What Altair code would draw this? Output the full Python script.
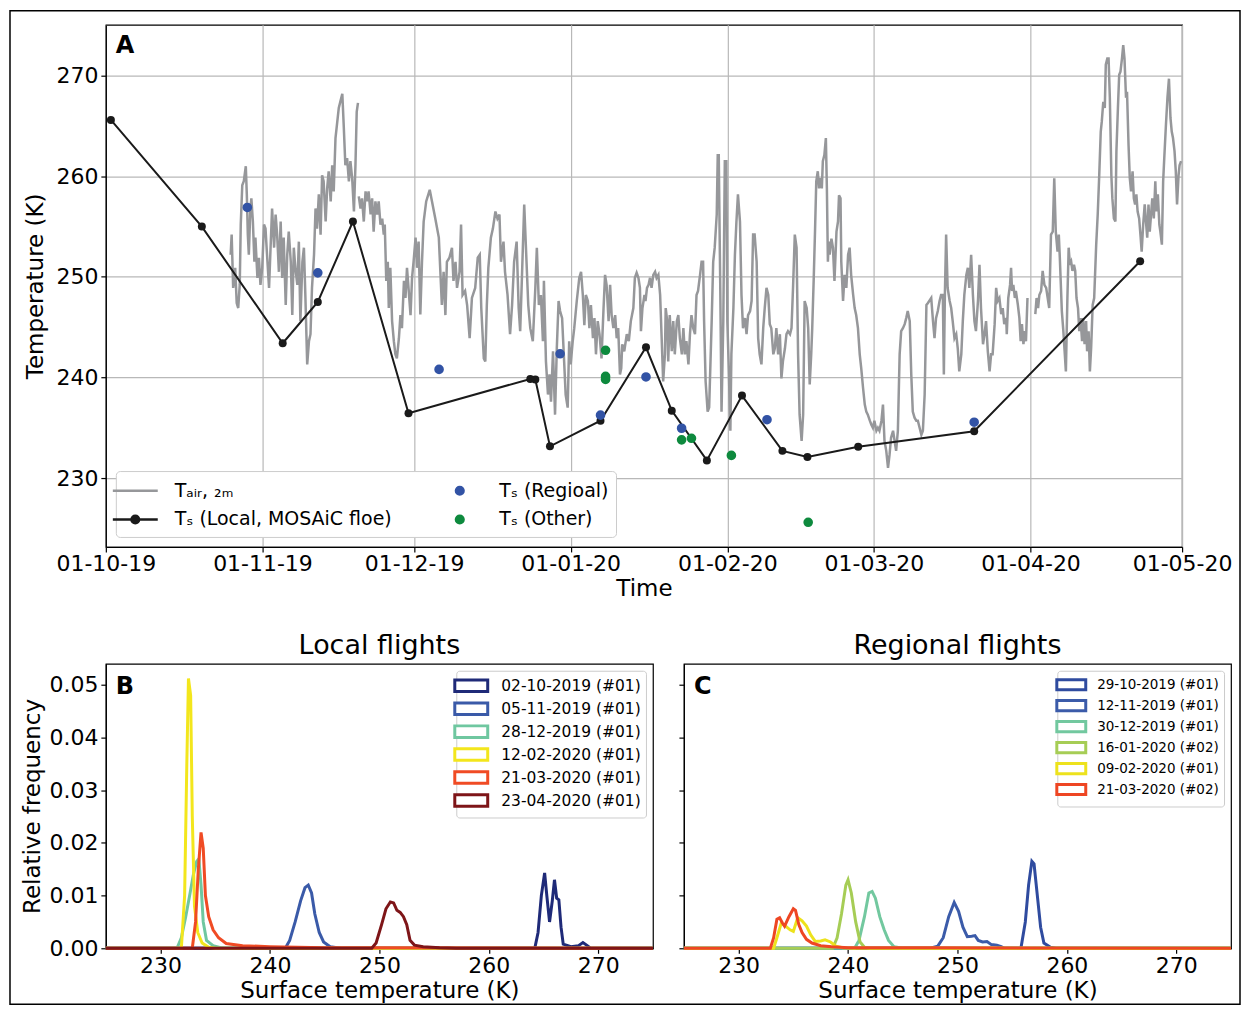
import altair as alt
import pandas as pd

FONT = "DejaVu Sans"
BASE = pd.Timestamp("2019-10-01")
GRAY = "#96979a"
BLACK = "#1a1a1a"
BLUE = "#3253a5"
GREEN = "#0e8a3e"
GRID = "#b8b8b8"

# ---------------- Panel A data (days since 2019-10-01, K) ----------------
tair_seg1 = [
    (24.7, 252.2), (24.9, 254.2), (25.2, 248.9), (25.6, 250.9), (25.9, 247.4), (26.2, 246.9),
    (26.5, 249.2), (26.7, 255.2), (27.0, 259.1), (27.3, 259.5), (27.7, 261.0), (27.9, 258.2),
    (28.1, 254.2), (28.3, 252.2), (28.6, 256.8), (28.8, 257.8), (29.1, 255.5), (29.4, 251.5),
    (29.6, 253.9), (30.0, 249.9), (30.3, 251.9), (30.6, 249.2), (30.95, 250.9), (31.3, 255.2),
    (31.6, 254.8), (31.9, 252.2), (32.3, 248.9), (32.6, 252.9), (32.9, 256.8), (33.3, 252.9),
    (33.6, 256.2), (33.9, 254.2), (34.25, 250.5), (34.6, 255.5), (34.9, 249.9), (35.2, 253.9),
    (35.6, 247.2), (35.9, 252.2), (36.2, 254.5), (36.6, 251.5), (36.9, 246.2), (37.2, 252.9),
    (37.5, 250.9), (37.9, 249.2), (38.2, 253.5), (38.5, 245.6), (38.9, 251.5), (39.2, 252.9),
    (39.5, 247.9), (39.85, 241.3), (40.2, 243.6), (40.5, 244.3), (40.8, 248.9), (41.2, 252.2),
    (41.5, 256.8), (41.8, 254.8), (42.15, 258.2), (42.5, 254.2), (42.8, 260.1), (43.1, 259.5),
    (43.5, 255.5), (43.8, 258.8), (44.1, 260.5), (44.5, 257.5), (44.8, 261.1), (45.1, 258.5),
    (45.45, 263.8), (45.8, 265.4), (46.1, 266.8), (46.4, 267.4), (46.8, 268.2), (47.1, 264.8),
    (47.4, 261.1), (47.75, 261.8), (48.1, 259.5), (48.4, 261.5), (48.75, 259.8), (49.1, 256.5),
    (49.4, 261.1), (49.65, 266.4), (49.9, 267.3),
]
tair_seg2 = [
    (50.06, 258.0), (50.4, 256.8), (50.7, 257.8), (51.05, 255.5), (51.4, 258.5), (51.7, 257.5),
    (52.0, 258.5), (52.4, 256.2), (52.7, 257.8), (53.0, 254.5), (53.35, 257.5), (53.7, 256.2),
    (54.0, 257.5), (54.35, 255.2), (54.7, 255.8), (55.0, 254.2), (55.2, 255.2), (55.5, 249.6),
    (55.8, 251.5), (56.0, 246.9), (56.3, 250.9), (56.65, 245.6), (57.0, 243.6), (57.3, 242.3),
    (57.6, 241.9), (58.0, 243.9), (58.3, 246.2), (58.6, 244.9), (59.0, 249.6), (59.3, 247.9),
    (59.6, 250.9), (59.9, 248.9), (60.3, 246.2), (60.6, 249.9), (60.9, 251.5), (61.3, 253.9),
    (61.6, 250.9), (61.9, 253.5), (62.24, 246.25), (62.57, 251.5), (62.9, 255.5), (63.4, 257.5),
    (64.1, 258.65), (64.55, 257.5), (65.2, 255.8), (65.9, 253.9), (66.5, 247.2), (66.85, 250.5),
    (67.2, 246.2), (67.5, 251.5), (68.0, 251.9), (68.5, 252.9), (68.8, 249.6), (69.2, 251.5),
    (69.5, 248.9), (70.0, 250.5), (70.3, 255.2), (70.6, 248.2), (71.1, 248.6), (71.5, 247.2),
    (72.0, 243.9), (72.45, 247.9), (73.1, 248.9), (73.6, 251.9), (74.0, 252.2), (74.3, 246.9),
    (74.8, 241.9), (75.1, 241.6), (75.4, 247.2), (75.7, 250.9), (76.2, 253.9), (76.6, 254.8),
    (77.1, 256.5), (77.5, 255.8), (77.9, 256.2), (78.2, 251.5), (78.7, 253.5), (79.0, 250.5),
    (79.5, 248.2), (80.0, 244.3), (80.4, 247.2), (80.8, 251.5), (81.3, 253.5), (81.7, 246.9),
    (82.0, 244.6), (82.3, 249.2), (82.8, 257.2), (83.2, 252.2), (83.6, 247.2), (84.0, 244.9),
    (84.5, 243.6), (85.0, 248.9), (85.3, 252.9), (85.7, 247.2), (86.1, 248.2), (86.5, 243.6),
    (86.7, 249.6), (87.1, 241.6), (87.5, 238.3), (87.8, 240.3), (88.1, 237.6), (88.5, 242.6),
    (88.9, 236.3), (89.25, 242.9), (89.6, 247.6), (89.9, 246.6), (90.3, 245.9), (90.7, 241.6),
    (91.0, 238.3), (91.4, 237.0), (91.7, 243.6), (92.0, 241.3), (92.4, 243.6), (92.7, 244.9),
    (93.2, 247.6), (93.7, 249.9), (94.05, 250.5), (94.4, 248.2), (94.7, 245.2), (95.0, 248.2),
    (95.4, 247.6), (95.7, 244.9), (96.0, 247.2), (96.4, 243.9), (96.7, 245.9), (97.0, 242.3),
    (97.35, 245.6), (97.7, 244.3), (98.1, 241.9), (98.5, 246.9), (98.8, 250.2), (99.1, 249.2),
    (99.5, 245.6), (99.8, 249.2), (100.1, 246.2), (100.45, 244.9),
    (100.8, 246.2), (101.1, 243.9), (101.4, 244.9), (101.75, 240.3), (102.0, 240.9), (102.2, 243.3),
    (102.6, 242.6), (103.1, 244.3), (103.5, 243.6), (103.9, 245.6), (104.4, 246.9), (104.7, 249.9),
    (105.05, 250.4), (105.4, 249.9), (105.7, 248.9), (105.9, 244.6), (106.2, 246.9), (106.6, 248.2),
    (106.8, 247.6), (107.1, 248.9), (107.4, 249.2), (107.7, 249.9), (108.0, 248.9), (108.35, 250.2),
    (108.7, 250.5), (109.0, 249.9), (109.35, 250.2), (109.7, 248.2), (110.0, 243.9), (110.3, 239.6),
    (110.65, 242.3), (110.8, 246.9), (111.1, 245.6), (111.3, 241.6), (111.6, 246.2), (112.0, 242.6),
    (112.3, 245.6), (112.6, 242.3), (113.0, 245.6), (113.3, 246.2), (113.6, 243.9), (114.0, 242.3),
    (114.3, 244.9), (114.6, 242.3), (114.9, 243.6), (115.3, 241.3), (115.6, 244.3), (115.9, 246.2),
    (116.25, 244.9), (116.6, 244.3), (116.9, 248.2), (117.2, 248.6), (117.6, 250.2), (117.9, 251.5),
    (118.2, 251.5), (118.4, 245.6), (118.7, 239.6), (119.1, 236.6), (119.4, 237.0), (119.9, 245.6),
    (120.2, 251.5), (120.5, 252.9), (120.9, 256.2), (121.1, 262.1), (121.3, 262.1), (121.6, 248.9),
    (121.85, 236.6), (122.2, 245.6), (122.5, 261.5), (122.8, 261.5), (123.0, 245.6), (123.3, 240.6),
    (123.6, 234.7), (123.8, 242.3), (124.2, 246.9), (124.5, 252.2), (124.8, 255.5), (125.1, 258.2),
    (125.5, 255.5), (125.8, 248.2), (126.1, 244.9), (126.5, 245.9), (126.8, 244.3), (127.1, 246.2),
    (127.5, 246.6), (127.8, 247.6), (128.1, 254.2), (128.4, 254.2), (128.8, 251.5), (129.1, 243.9),
    (129.4, 242.3), (129.75, 241.3), (130.1, 244.9), (130.4, 246.9), (130.75, 248.9), (131.1, 248.2),
    (131.4, 245.3), (131.7, 244.9), (132.1, 242.3), (132.4, 242.9), (132.7, 244.9), (133.05, 242.3),
    (133.4, 244.3), (133.7, 239.9), (134.0, 241.6), (134.4, 242.9), (134.7, 244.3), (135.0, 244.6),
    (135.4, 244.3), (135.7, 244.9), (136.0, 248.9), (136.35, 254.2), (136.7, 252.9), (137.0, 242.3),
    (137.3, 236.3), (137.7, 233.7), (138.0, 236.3), (138.3, 247.6), (138.7, 246.9), (139.0, 244.9),
    (139.3, 239.3), (139.6, 242.3), (139.8, 244.9), (140.1, 249.9), (140.35, 254.5), (140.6, 259.5),
    (140.9, 260.5), (141.15, 258.8), (141.4, 259.8), (141.7, 258.8), (141.9, 261.5), (142.2, 262.1),
    (142.5, 263.8), (142.7, 258.8), (142.9, 251.5), (143.05, 253.5), (143.25, 252.2), (143.6, 253.8),
    (143.9, 252.9), (144.2, 249.6), (144.6, 254.5), (144.9, 255.5), (145.1, 258.1), (145.4, 257.8),
    (145.55, 251.5), (145.9, 247.6), (146.2, 250.2), (146.55, 248.9), (146.9, 252.2), (147.2, 252.9),
    (147.5, 250.2), (147.9, 248.2), (148.2, 246.9), (148.5, 246.2), (148.85, 244.9), (149.2, 242.3),
    (149.5, 240.9), (149.85, 239.0), (150.2, 237.3), (150.5, 236.6), (150.8, 236.3), (151.2, 235.7),
    (151.5, 235.3), (151.8, 235.0), (152.1, 235.7), (152.5, 234.7), (152.8, 235.0), (153.1, 234.7),
    (153.5, 235.7), (153.8, 237.3), (154.1, 233.7), (154.45, 232.7), (154.8, 231.0), (155.1, 232.3),
    (155.4, 234.0), (155.8, 234.7), (156.1, 233.7), (156.4, 232.7), (156.75, 234.7), (157.1, 242.3),
    (157.4, 244.6), (157.75, 244.9), (158.1, 245.3), (158.4, 245.9), (158.7, 246.6), (159.1, 245.6),
    (159.4, 240.3), (159.7, 236.6), (160.05, 236.0), (160.4, 235.7), (160.7, 235.7), (161.05, 235.0),
    (161.4, 234.3), (161.7, 234.7), (162.05, 238.3), (162.4, 247.2), (162.7, 247.4), (163.35, 247.9),
    (163.7, 245.6), (164.0, 243.9), (164.3, 245.9), (164.65, 246.6), (165.0, 247.6), (165.3, 248.2),
    (165.65, 248.2), (165.85, 240.3), (166.05, 248.2), (166.3, 254.2), (166.6, 248.9), (167.0, 247.6),
    (167.3, 246.9), (167.6, 245.6), (167.95, 243.9), (168.3, 244.3), (168.6, 242.9), (168.9, 240.6),
    (169.3, 242.3), (169.6, 245.6), (169.9, 248.2), (170.3, 250.2), (170.6, 250.9), (170.9, 248.9),
    (171.25, 252.2), (171.6, 248.2), (171.9, 245.6), (172.2, 244.6), (172.6, 247.6), (172.9, 251.2),
    (173.2, 246.9), (173.6, 243.3), (173.9, 244.3), (174.2, 245.6), (174.55, 242.6), (174.9, 240.6),
    (175.2, 242.3), (175.5, 242.3), (175.9, 245.3), (176.2, 248.9), (176.5, 247.6),
    (176.84, 247.9), (177.2, 246.3), (177.5, 246.9), (177.8, 245.3), (178.2, 245.9), (178.3, 244.3),
    (178.6, 247.9), (178.95, 249.2), (179.15, 250.9), (179.35, 248.6), (179.6, 249.2), (179.9, 247.9),
    (180.1, 248.6), (180.5, 247.2), (180.8, 245.9), (181.05, 243.6), (181.3, 245.3), (181.6, 243.3),
    (181.85, 244.6), (182.1, 243.6), (182.4, 247.9),
]
tair_seg3 = [
    (183.95, 246.3), (184.2, 247.9), (184.5, 246.9), (184.75, 248.2), (185.1, 248.6), (185.4, 250.6),
    (185.75, 249.2), (186.1, 248.9), (186.4, 247.9), (186.7, 246.9), (187.05, 254.2), (187.4, 254.5),
    (187.7, 259.8), (188.0, 254.5), (188.35, 252.5), (188.6, 254.2), (188.8, 251.9), (189.2, 246.6),
    (189.5, 244.6), (189.75, 242.6), (190.0, 240.6), (190.3, 247.9), (190.55, 252.9), (190.8, 251.2),
    (191.05, 251.5), (191.3, 250.6), (191.6, 251.2), (191.85, 250.6), (192.1, 247.9), (192.4, 246.9),
    (192.65, 244.6), (192.9, 245.9), (193.2, 243.6), (193.4, 245.9), (193.7, 243.3), (194.0, 245.6),
    (194.2, 242.6), (194.5, 244.6), (194.75, 240.6), (195.0, 242.95), (195.3, 247.2), (195.6, 247.9),
    (196.0, 253.2), (196.3, 256.2), (196.6, 260.1), (196.9, 264.45), (197.1, 265.4), (197.4, 267.4),
    (197.7, 266.8), (197.9, 271.1), (198.2, 271.7), (198.45, 271.7), (198.7, 267.8), (199.0, 260.1),
    (199.2, 257.8), (199.5, 255.8), (199.8, 255.5), (200.0, 262.5), (200.3, 266.8), (200.55, 270.1),
    (200.8, 270.4), (201.1, 271.7), (201.35, 273.05), (201.6, 271.7), (201.9, 267.8), (202.1, 268.4),
    (202.4, 263.1), (202.65, 259.8), (202.9, 258.5), (203.2, 260.5), (203.45, 257.8), (203.7, 257.2),
    (203.95, 258.2), (204.2, 256.5), (204.5, 255.8), (204.8, 253.9), (205.0, 252.5), (205.3, 255.2),
    (205.6, 257.2), (205.8, 255.8), (206.1, 253.9), (206.35, 257.2), (206.6, 254.5), (206.9, 256.5),
    (207.1, 257.8), (207.4, 255.8), (207.7, 259.5), (207.9, 256.5), (208.2, 258.2), (208.5, 255.2),
    (208.7, 254.5), (209.0, 253.2), (209.25, 259.5), (209.5, 262.1), (209.8, 265.1), (210.1, 267.8),
    (210.4, 269.7), (210.7, 265.8), (210.95, 264.45), (211.2, 263.8), (211.5, 262.5), (211.75, 260.5),
    (212.0, 257.2), (212.3, 260.1), (212.5, 261.1), (212.8, 261.5),
]

local_day = [1.0, 19.0, 35.0, 41.95, 48.9, 59.9, 84.0, 85.0, 87.9, 97.9, 106.9, 112.0, 118.95,
             125.9, 133.9, 138.85, 148.9, 171.85, 204.7]
local_k = [265.6, 255.0, 243.4, 247.5, 255.5, 236.45, 239.85, 239.8, 233.15, 235.7, 243.0, 236.7,
           231.75, 238.2, 232.7, 232.1, 233.1, 234.65, 251.55]
reg_day = [28.0, 41.95, 65.95, 89.9, 97.9, 106.9, 113.95, 130.85, 171.85]
reg_k = [256.9, 250.4, 240.8, 242.35, 236.25, 240.05, 234.95, 235.8, 235.55]
oth_day = [98.9, 98.9, 98.9, 113.95, 115.9, 123.8, 139.0]
oth_k = [242.7, 240.1, 239.8, 233.8, 233.95, 232.25, 225.6]

S_AIR = "T\u2090\u1d62\u1d63, \u2082\u2098"
S_LOC = "T\u209b (Local, MOSAiC floe)"
S_REG = "T\u209b (Regioal)"
S_OTH = "T\u209b (Other)"

# ---------------- Panel B data (K, relative frequency) ----------------
b_labels = ["02-10-2019 (#01)", "05-11-2019 (#01)", "28-12-2019 (#01)",
            "12-02-2020 (#01)", "21-03-2020 (#01)", "23-04-2020 (#01)"]
b_colors = ["#1f2a78", "#3a5aa8", "#6fc7a0", "#f3e61c", "#f04b24", "#7e1518"]
b_0210 = [(225, 0), (264.2, 0), (264.5, 0.003), (264.8, 0.010), (265.1, 0.0143), (265.3, 0.010),
          (265.55, 0.005), (265.8, 0.009), (266.0, 0.013), (266.2, 0.0095), (266.4, 0.0092),
          (266.6, 0.004), (266.8, 0.0008), (267.5, 0.0003), (268.2, 0.0005), (268.6, 0.0011),
          (269.0, 0.0005), (269.3, 0), (275, 0)]
b_0511 = [(225, 0), (241.4, 0), (241.8, 0.0015), (242.3, 0.005), (242.8, 0.009), (243.2, 0.0115),
          (243.5, 0.012), (243.8, 0.0105), (244.1, 0.0065), (244.5, 0.003), (244.9, 0.0012),
          (245.5, 0.0003), (246.5, 0), (275, 0)]
b_2812 = [(225, 0), (231.5, 0), (231.9, 0.002), (232.3, 0.006), (232.7, 0.0105), (233.0, 0.014),
          (233.3, 0.0165), (233.5, 0.017), (233.7, 0.012), (233.9, 0.005), (234.2, 0.0015),
          (234.8, 0.0005), (235.5, 0.0001), (236, 0), (275, 0)]
b_1202 = [(225, 0), (231.9, 0), (232.2, 0.010), (232.4, 0.035), (232.55, 0.0512), (232.75, 0.048),
          (232.9, 0.025), (233.1, 0.008), (233.4, 0.003), (233.8, 0.001), (234.4, 0.0002),
          (235, 0), (275, 0)]
b_2103 = [(225, 0), (232.9, 0), (233.2, 0.005), (233.45, 0.015), (233.7, 0.022), (233.9, 0.019),
          (234.1, 0.010), (234.4, 0.006), (234.8, 0.0035), (235.3, 0.002), (236.0, 0.0009),
          (237.5, 0.0005), (240, 0.0003), (245, 0.0001), (250, 0.0001), (275, 0)]
b_2304 = [(225, 0), (249.3, 0), (249.7, 0.001), (250.2, 0.0045), (250.6, 0.0075), (251.0, 0.0088),
          (251.3, 0.0086), (251.6, 0.0072), (251.9, 0.0068), (252.2, 0.006), (252.5, 0.0045),
          (252.8, 0.0015), (253.2, 0.0006), (254, 0.0003), (255.5, 0.0001), (257, 0), (275, 0)]
b_curves = [b_0210, b_0511, b_2812, b_1202, b_2103, b_2304]

# ---------------- Panel C data ----------------
c_labels = ["29-10-2019 (#01)", "12-11-2019 (#01)", "30-12-2019 (#01)",
            "16-01-2020 (#02)", "09-02-2020 (#01)", "21-03-2020 (#02)"]
c_colors = ["#2f4b9f", "#3b5ba9", "#72c89f", "#a6cd55", "#ede21c", "#ee4623"]
c_2910 = [(225, 0), (255.8, 0), (256.2, 0.005), (256.5, 0.012), (256.8, 0.0165), (257.0, 0.016),
          (257.3, 0.010), (257.6, 0.004), (257.9, 0.001), (258.5, 0.0002), (259, 0), (275, 0)]
c_1211 = [(225, 0), (247.5, 0), (248.2, 0.0004), (248.7, 0.002), (249.2, 0.006), (249.7, 0.0087),
          (250.1, 0.007), (250.5, 0.004), (250.9, 0.0022), (251.3, 0.0023), (251.6, 0.0024),
          (251.9, 0.0015), (252.3, 0.0012), (252.7, 0.0013), (253.1, 0.0007), (253.6, 0.0006),
          (254.0, 0.0003), (254.3, 0), (275, 0)]
c_3012 = [(225, 0), (240.6, 0), (241.0, 0.0015), (241.5, 0.006), (241.9, 0.0105), (242.2, 0.0108),
          (242.5, 0.0095), (242.9, 0.006), (243.3, 0.0035), (243.7, 0.0015), (244.2, 0.0003),
          (245, 0), (275, 0)]
c_1601 = [(225, 0), (238.6, 0), (239.0, 0.002), (239.4, 0.0065), (239.8, 0.012), (240.0, 0.013),
          (240.3, 0.0105), (240.7, 0.005), (241.1, 0.0012), (241.5, 0.0002), (242, 0), (275, 0)]
c_0902 = [(225, 0), (233.2, 0), (233.5, 0.002), (233.9, 0.0048), (234.3, 0.0042), (234.7, 0.0035),
          (235.0, 0.0032), (235.4, 0.0058), (235.8, 0.0052), (236.2, 0.0042), (236.6, 0.0025),
          (237.0, 0.0013), (237.5, 0.0014), (237.9, 0.0016), (238.4, 0.0012), (238.9, 0.0004),
          (239.5, 0.0001), (240.5, 0), (275, 0)]
c_2103 = [(225, 0), (232.9, 0), (233.2, 0.002), (233.5, 0.0055), (233.75, 0.0058), (234.0, 0.0048),
          (234.2, 0.0042), (234.6, 0.006), (235.0, 0.0075), (235.2, 0.0072), (235.5, 0.0045),
          (235.8, 0.003), (236.2, 0.0017), (236.7, 0.0010), (237.5, 0.0005), (238.5, 0.0003),
          (240, 0.0001), (248, 0.0001), (275, 0)]
c_curves = [c_2910, c_1211, c_3012, c_1601, c_0902, c_2103]


def iso(d):
    return (BASE + pd.to_timedelta(d, unit="D")).strftime("%Y-%m-%dT%H:%M:%S")


rows = []
for sid, seg in enumerate([tair_seg1, tair_seg2, tair_seg3]):
    for d, k in seg:
        rows.append({"t": iso(d), "k": k, "seg": sid})
tair_df = pd.DataFrame(rows)
local_df = pd.DataFrame({"t": [iso(d) for d in local_day], "k": local_k})
pts_df = pd.DataFrame({
    "t": [iso(d) for d in reg_day] + [iso(d) for d in oth_day],
    "k": reg_k + oth_k,
    "series": [S_REG] * len(reg_day) + [S_OTH] * len(oth_day),
})


def hist_df(labels, curves):
    r = []
    for lab, cur in zip(labels, curves):
        for t, f in cur:
            r.append({"temp": t, "freq": f, "flight": lab})
    return pd.DataFrame(r)


b_df = hist_df(b_labels, b_curves)
c_df = hist_df(c_labels, c_curves)
one = pd.DataFrame({"a": [0]})

# ---------------- Panel A ----------------
month_ticks = [alt.DateTime(year=2019, month=m, date=1) for m in (10, 11, 12)] + \
              [alt.DateTime(year=2020, month=m, date=1) for m in (1, 2, 3, 4, 5)]
x_a = alt.X("t:T", title="Time",
            scale=alt.Scale(domain=[alt.DateTime(year=2019, month=10, date=1),
                                    alt.DateTime(year=2020, month=5, date=1)], nice=False),
            axis=alt.Axis(values=month_ticks, format="%d-%m-%y", grid=True, gridColor=GRID,
                          gridWidth=1.2, labelPadding=2, titlePadding=3))
y_a = alt.Y("k:Q", title="Temperature (K)",
            scale=alt.Scale(domain=[223.15, 275.06], nice=False, zero=False),
            axis=alt.Axis(values=[230, 240, 250, 260, 270], grid=True, gridColor=GRID,
                          gridWidth=1.2, labelPadding=3, titlePadding=8))

LINE = "M-2,0H2"
DOT = "M-0.34,0A0.34,0.34 0 1,1 0.34,0A0.34,0.34 0 1,1 -0.34,0Z"
LINEDOT = "M-2,0H2M-0.34,0A0.34,0.34 0 1,1 0.34,0A0.34,0.34 0 1,1 -0.34,0Z"
# legend fills column by column: first column T_air / T_s local, second regional / other
dom = [S_AIR, S_LOC, S_REG, S_OTH]
rng = [GRAY, BLACK, BLUE, GREEN]
shapes = [LINE, LINEDOT, DOT, DOT]
leg_a = alt.Legend(title=None, orient="bottom-left", offset=10, columns=2,
                   labelFont=FONT, labelFontSize=19, labelColor="black", labelLimit=600,
                   symbolSize=506, symbolStrokeWidth=2.5, symbolOpacity=1,
                   labelOffset=27, columnPadding=55, rowPadding=6, padding=7,
                   strokeColor="#cccccc", fillColor="white", cornerRadius=4)

tair = alt.Chart(tair_df).mark_line(color=GRAY, strokeWidth=2.5).encode(x=x_a, y=y_a, detail="seg:N")
loc_line = alt.Chart(local_df).mark_line(color=BLACK, strokeWidth=2).encode(x=x_a, y=y_a)
loc_pts = alt.Chart(local_df).mark_point(filled=True, color=BLACK, size=64, opacity=1).encode(x=x_a, y=y_a)
others = alt.Chart(pts_df).mark_point(filled=True, size=506, opacity=1).encode(
    x=x_a, y=y_a,
    color=alt.Color("series:N", scale=alt.Scale(domain=dom, range=rng), legend=leg_a),
    stroke=alt.Stroke("series:N", scale=alt.Scale(domain=dom, range=rng), legend=leg_a),
    shape=alt.Shape("series:N", scale=alt.Scale(domain=dom, range=shapes), legend=leg_a),
)
lab_a = alt.Chart(one).mark_text(text="A", font=FONT, fontSize=24, fontWeight="bold", color="black",
                                 align="left", baseline="middle").encode(x=alt.value(10), y=alt.value(21))
frame = alt.Chart(one).mark_rect(filled=False, color="black", strokeWidth=1.5).encode(
    x=alt.value(-96), x2=alt.value(1136), y=alt.value(-14), y2=alt.value(981))

panel_a = alt.layer(tair, loc_line, loc_pts, others, lab_a, frame).properties(width=1078, height=523)


# ---------------- Panels B and C ----------------
def hist_panel(df, labels, colors, title, letter, show_y, lfs, lsize, loff, rpad):
    x = alt.X("temp:Q", title="Surface temperature (K)",
              scale=alt.Scale(domain=[225, 275], nice=False, zero=False),
              axis=alt.Axis(values=[230, 240, 250, 260, 270], grid=False, labelPadding=2, titlePadding=3))
    if show_y:
        yax = alt.Axis(values=[0, 0.01, 0.02, 0.03, 0.04, 0.05], format=".2f", grid=False,
                       labelPadding=3, titlePadding=4)
        ytitle = "Relative frequency"
    else:
        yax = alt.Axis(values=[0, 0.01, 0.02, 0.03, 0.04, 0.05], labels=False, grid=False)
        ytitle = None
    y = alt.Y("freq:Q", title=ytitle, scale=alt.Scale(domain=[0, 0.054], nice=False), axis=yax)
    leg = alt.Legend(title=None, orient="top-right", offset=7, labelFont=FONT, labelFontSize=lfs,
                     labelColor="black", labelLimit=400, symbolType="M-2,-0.7H2V0.7H-2Z",
                     symbolSize=lsize, symbolStrokeWidth=3, symbolFillColor="white",
                     labelOffset=loff, rowPadding=rpad, padding=5, strokeColor="#cccccc",
                     fillColor="white", cornerRadius=3)
    lines = alt.Chart(df).mark_line(strokeWidth=3).encode(
        x=x, y=y,
        color=alt.Color("flight:N", scale=alt.Scale(domain=labels, range=colors), legend=leg))
    lab = alt.Chart(one).mark_text(text=letter, font=FONT, fontSize=24, fontWeight="bold", color="black",
                                   align="left", baseline="middle").encode(x=alt.value(10), y=alt.value(23))
    return alt.layer(lines, lab).properties(
        width=548, height=285,
        title=alt.TitleParams(title, font=FONT, fontSize=27, fontWeight="normal", color="black",
                              anchor="middle", offset=4))


panel_b = hist_panel(b_df, b_labels, b_colors, "Local flights", "B", True, 15.5, 272, 20, -1)
panel_c = hist_panel(c_df, c_labels, c_colors, "Regional flights", "C", False, 13.5, 210, 17, -3.7)

bottom = alt.hconcat(panel_b, panel_c, spacing=31, bounds="flush").resolve_scale(color="independent")

chart = alt.vconcat(panel_a, bottom, spacing=117, bounds="flush", padding=0).resolve_scale(
    color="independent", stroke="independent", shape="independent"
).configure(font=FONT, background="white").configure_axis(
    labelFont=FONT, titleFont=FONT, labelFontSize=22, titleFontSize=23, labelColor="black",
    titleColor="black", titleFontWeight="normal", domainColor="black", tickColor="black",
    tickSize=5, tickWidth=1.2, domainWidth=1.2, labelFlush=False, labelOverlap=False
).configure_view(stroke="black", strokeWidth=1.2)

chart.save("out.html", embed_options={"renderer": "svg", "actions": False})
